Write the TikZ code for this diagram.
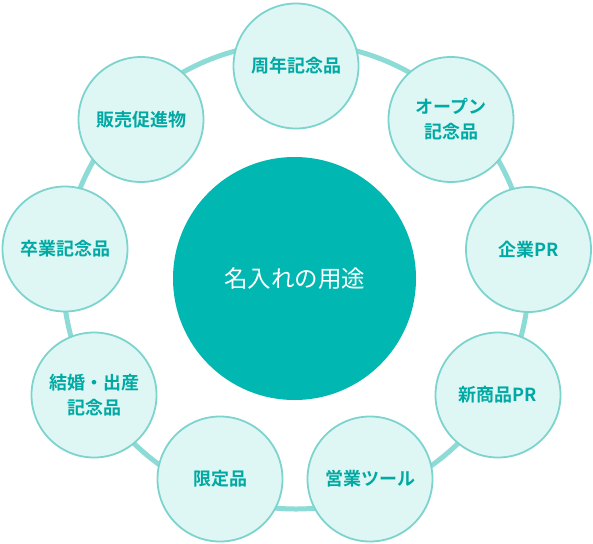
\documentclass[tikz,border=0pt]{standalone}
\usepackage{fontspec}
\setmainfont{Noto Sans CJK JP}
\newfontfamily\jpbold{Noto Sans CJK JP Bold}
\definecolor{ringc}{HTML}{8DDBD6}
\definecolor{bordc}{HTML}{7DD3CD}
\definecolor{fillc}{HTML}{DFF7F4}
\definecolor{hubc}{HTML}{00B7B1}
\definecolor{labc}{HTML}{00A9A3}
\tikzset{
  item/.style={circle, draw=bordc, fill=fillc, line width=1.8pt, minimum size=125pt, inner sep=0pt, align=center,
    font=\jpbold\fontsize{18}{25}\selectfont, text=labc},
  hub/.style={circle, fill=hubc, minimum size=243pt, inner sep=0pt, text=white, font=\fontsize{23.5}{26}\selectfont},
  ringline/.style={draw=ringc, line width=5pt}
}
\begin{document}
\begin{tikzpicture}[x=1pt,y=-1pt]
\useasboundingbox (0,0) rectangle (593,543);
\coordinate (rc) at (296,276);
\draw[ringline] (rc) circle[radius=233];
\node[hub] (hub) at (294.5,278.5) {名入れの用途};
\node[item] (a1) at (296,66) {周年記念品};
\node[item] (a2) at (451,119.5) {オープン\\記念品};
\node[item] (a3) at (528.5,249.5) {企業PR};
\node[item] (a4) at (498,395) {新商品PR};
\node[item] (a5) at (370,479) {営業ツール};
\node[item] (a6) at (220,479) {限定品};
\node[item] (a7) at (94,395) {結婚・出産\\記念品};
\node[item] (a8) at (65,249) {卒業記念品};
\node[item] (a9) at (141,119.5) {販売促進物};
\end{tikzpicture}
\end{document}
